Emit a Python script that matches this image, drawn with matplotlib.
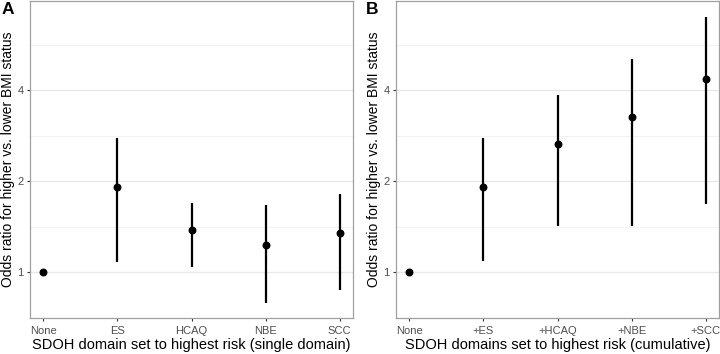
import numpy as np
import matplotlib
matplotlib.use("Agg")
import matplotlib.pyplot as plt
from matplotlib.ticker import FixedLocator, FixedFormatter, NullFormatter

plt.rcParams["font.family"] = ["Liberation Sans", "DejaVu Sans"]

# Panel A - single domain set to highest risk
labels_a = ["None", "ES", "HCAQ", "NBE", "SCC"]
or_a = [1.0, 1.92, 1.38, 1.23, 1.35]
lo_a = [1.0, 1.08, 1.04, 0.79, 0.87]
hi_a = [1.0, 2.77, 1.70, 1.67, 1.82]

# Panel B - cumulative
labels_b = ["None", "+ES", "+HCAQ", "+NBE", "+SCC"]
or_b = [1.0, 1.92, 2.65, 3.26, 4.36]
lo_b = [1.0, 1.09, 1.42, 1.42, 1.68]
hi_b = [1.0, 2.77, 3.86, 5.07, 7.01]

y_ticks = [1, 2, 4]
y_minor = [2 ** 0.5, 2 ** 1.5, 2 ** 2.5]

fig = plt.figure(figsize=(7.2, 3.54), dpi=100)
ax_a = fig.add_axes([30 / 720, 36 / 354, 323 / 720, 317 / 354])
ax_b = fig.add_axes([396 / 720, 36 / 354, 323 / 720, 317 / 354])


def draw_panel(ax, labels, est, lo, hi, xlabel):
    x = np.arange(1, len(labels) + 1)
    ax.set_yscale("log", base=2)
    ax.set_ylim(0.705, 7.9)
    ax.set_xlim(0.82, len(labels) + 0.18)
    for yy in y_ticks:
        ax.axhline(yy, color="#e8e8e8", lw=1.0, zorder=0)
    for yy in y_minor:
        ax.axhline(yy, color="#f2f2f2", lw=0.7, zorder=0)
    ax.vlines(x, lo, hi, color="black", lw=1.6, zorder=2)
    ax.scatter(x, est, s=22, color="black", zorder=3)
    ax.yaxis.set_major_locator(FixedLocator(y_ticks))
    ax.yaxis.set_major_formatter(FixedFormatter([str(t) for t in y_ticks]))
    ax.yaxis.set_minor_locator(FixedLocator([]))
    ax.yaxis.set_minor_formatter(NullFormatter())
    ax.set_xticks(x)
    ax.set_xticklabels(labels, fontsize=8, color="#4d4d4d")
    ax.tick_params(axis="y", labelsize=8, labelcolor="#4d4d4d", length=2.5,
                   color="#333333", pad=2)
    ax.tick_params(axis="x", length=2.5, color="#333333", pad=3.5)
    for sp in ax.spines.values():
        sp.set_color("#a0a0a0")
        sp.set_linewidth(0.9)
    ax.set_xlabel(xlabel, fontsize=10.5, labelpad=1.5)
    ax.set_ylabel("Odds ratio for higher vs. lower BMI status", fontsize=10, labelpad=1.5)


draw_panel(ax_a, labels_a, or_a, lo_a, hi_a,
           "SDOH domain set to highest risk (single domain)")
draw_panel(ax_b, labels_b, or_b, lo_b, hi_b,
           "SDOH domains set to highest risk (cumulative)")

fig.text(2 / 720, 1 - 10 / 354, "A", fontsize=12.5, fontweight="bold",
         ha="left", va="center")
fig.text(366 / 720, 1 - 10 / 354, "B", fontsize=12.5, fontweight="bold",
         ha="left", va="center")

fig.savefig("out.png", dpi=100)
